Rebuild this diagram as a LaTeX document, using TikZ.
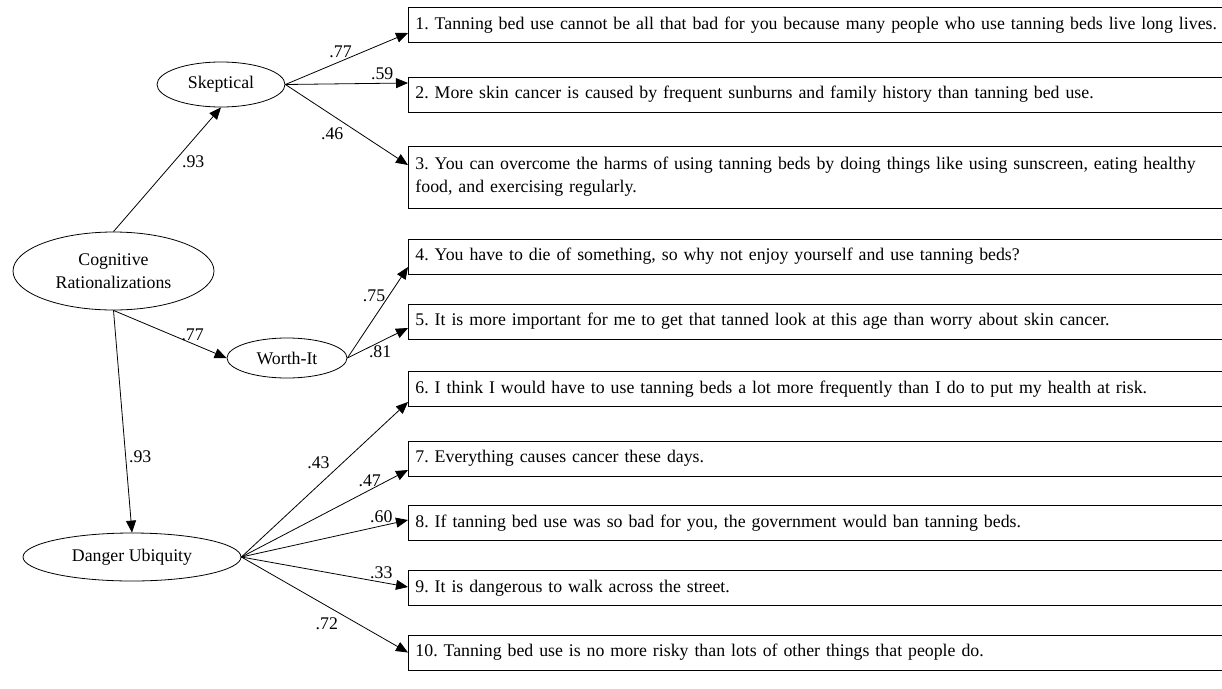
\documentclass[tikz,border=0pt]{standalone}
\usepackage{fontspec}
\setmainfont{Liberation Serif}
\usetikzlibrary{arrows.meta,shapes.geometric}

\tikzset{
  latent/.style={draw,ellipse,line width=.8pt,inner sep=0pt,align=center},
  item/.style={draw,rectangle,anchor=west,line width=.9pt,text width=802pt,
    inner xsep=7pt,inner ysep=0pt,minimum height=35pt,align=left},
  load/.style={line width=.8pt,-{Triangle[length=12pt,width=10pt]}},
  coef/.style={inner sep=3pt}
}

\begin{document}
\frenchspacing
\begin{tikzpicture}[x=1pt,y=-1pt,font=\fontsize{17.8}{23}\selectfont]

\useasboundingbox (0,0) rectangle (1222,688);

% latent factors
\node [latent,minimum width=201pt,minimum height=78pt] (cr) at (113.5,271) {Cognitive\\Rationalizations};
\node [latent,minimum width=128pt,minimum height=45pt] (sk) at (221,84.5) {Skeptical};
\node [latent,minimum width=120pt,minimum height=40pt] (wi) at (287,358) {Worth-It};
\node [latent,minimum width=218pt,minimum height=48pt] (du) at (132,557) {Danger Ubiquity};

% items
\node [item] (b1) at (408,25) {1. Tanning bed use cannot be all that bad for you because many people who use tanning beds live long lives.};
\node [item] (b2) at (408,94.5) {2. More skin cancer is caused by frequent sunburns and family history than tanning bed use.};
\node [item,minimum height=62pt] (b3) at (408,177) {3. You can overcome the harms of using tanning beds by doing things like using sunscreen, eating healthy\\food, and exercising regularly.};
\node [item] (b4) at (408,256.5) {4. You have to die of something, so why not enjoy yourself and use tanning beds?};
\node [item] (b5) at (408,321.5) {5. It is more important for me to get that tanned look at this age than worry about skin cancer.};
\node [item] (b6) at (408,389) {6. I think I would have to use tanning beds a lot more frequently than I do to put my health at risk.};
\node [item] (b7) at (408,458.5) {7. Everything causes cancer these days.};
\node [item] (b8) at (408,523) {8. If tanning bed use was so bad for you, the government would ban tanning beds.};
\node [item] (b9) at (408,588) {9. It is dangerous to walk across the street.};
\node [item] (b10) at (408,652.5) {10. Tanning bed use is no more risky than lots of other things that people do.};

% second order
\draw [load] (cr.north) -- (sk.south) node[coef,pos=.56,right=5pt]{.93};
\draw [load] (cr.south) -- (wi.west) node[coef,pos=.7,above]{.77};
\draw [load] (cr.south) -- (du.north) node[coef,pos=.66,right]{.93};

% skeptical
\draw [load] (sk.east) -- ([yshift=-8pt]b1.west) node[coef,pos=.45,above]{.77};
\draw [load] (sk.east) -- ([yshift=11.5pt]b2.west) node[coef,pos=.79,above]{.59};
\draw [load] (sk.east) -- ([yshift=12pt]b3.west) node[coef,pos=.5,below left]{.46};

% worth-it
\draw [load] (wi.east) -- ([yshift=-10.5pt]b4.west) node[coef,pos=.68,left]{.75};
\draw [load] (wi.east) -- ([yshift=-6.5pt]b5.west) node[coef,pos=.54,below]{.81};

% danger ubiquity
\draw [load] (du.east) -- ([yshift=-13pt]b6.west) node[coef,pos=.55,above left]{.43};
\draw [load] (du.east) -- ([yshift=-11.5pt]b7.west) node[coef,pos=.77,above]{.47};
\draw [load] (du.east) -- ([yshift=3pt]b8.west) node[coef,pos=.84,above]{.60};
\draw [load] (du.east) -- ([yshift=1pt]b9.west) node[coef,pos=.84,above]{.33};
\draw [load] (du.east) -- (b10.west) node[coef,pos=.6,below left]{.72};

\end{tikzpicture}
\end{document}
